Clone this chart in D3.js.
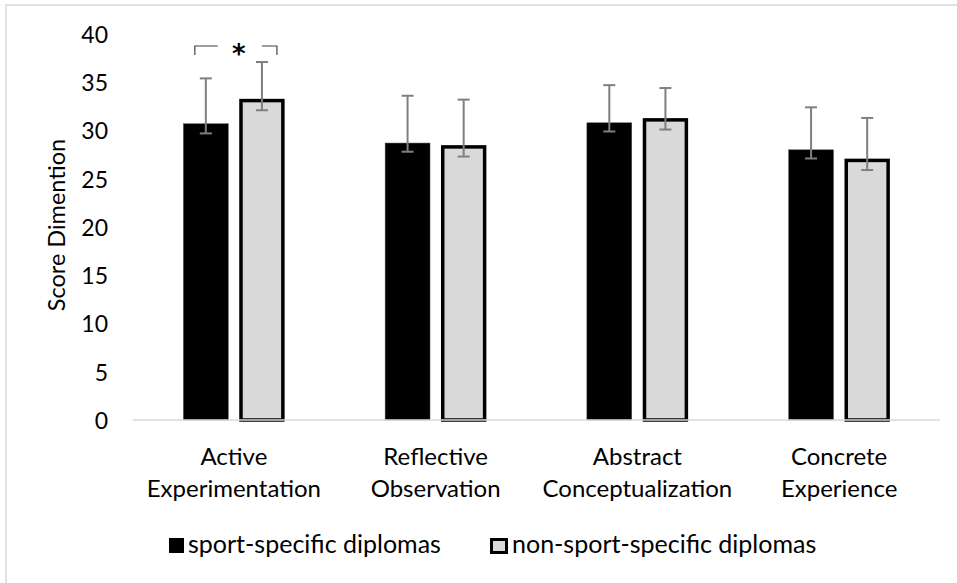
<!DOCTYPE html>
<html lang="en">
<head>
    <meta charset="utf-8">
    <title>Score Dimention</title>
    <style type="text/css">
        body { margin: 0; background: #fff; }
        .chart text { font-family: Lato, "Open Sans", sans-serif; fill: #000; }
        .chart .tick text { font-size: 23px; }
    </style>
</head>
<body>
    <svg class="chart" width="957" height="583"></svg>

    <script src="https://cdnjs.cloudflare.com/ajax/libs/d3/7.8.5/d3.min.js"></script>
    <script>
        // data
        var categories = [['Active', 'Experimentation'], ['Reflective', 'Observation'],
                          ['Abstract', 'Conceptualization'], ['Concrete', 'Experience']];
        var series = ['sport-specific diplomas', 'non-sport-specific diplomas'];
        var sportValues = [30.7, 28.7, 30.8, 28.0];
        var sportErrUp = [4.7, 4.9, 3.9, 4.4];
        var sportErrDown = [1.0, 0.9, 0.9, 0.9];
        var nonSportValues = [33.1, 28.3, 31.1, 26.9];
        var nonSportErrUp = [4.0, 4.9, 3.3, 4.4];
        var nonSportErrDown = [1.0, 1.0, 1.0, 1.0];
        var yTicks = [0, 5, 10, 15, 20, 25, 30, 35, 40];

        var svg = d3.select('.chart'),
            margin = {top: 34, right: 17, bottom: 163, left: 133},
            width = +svg.attr('width') - margin.left - margin.right,
            height = +svg.attr('height') - margin.top - margin.bottom;

        // outer frame
        svg.append('rect')
            .attr('x', 6).attr('y', 5)
            .attr('width', 1000).attr('height', 1000)
            .attr('fill', 'none')
            .attr('stroke', '#d9d9d9')
            .attr('stroke-width', 1.5);

        var g = svg.append('g')
            .attr('transform', 'translate(' + margin.left + ',' + margin.top + ')');

        var catNames = categories.map(function(c) { return c.join(' '); });

        var x0 = d3.scaleBand().domain(catNames).range([0, width]);
        var x1 = d3.scaleBand().domain(series).range([-50.5, 50.5]).paddingInner(0.2);
        var y = d3.scaleLinear().domain([0, 40]).range([height, 0]);

        // y axis (labels only)
        var yAxis = g.append('g')
            .call(d3.axisLeft(y).tickValues(yTicks).tickSize(0).tickPadding(25));
        yAxis.select('.domain').remove();
        yAxis.selectAll('text').attr('dy', '0.36em');

        // rows for drawing
        var rows = [];
        catNames.forEach(function(c, i) {
            rows.push({cat: c, s: series[0], v: sportValues[i], up: sportErrUp[i], down: sportErrDown[i]});
            rows.push({cat: c, s: series[1], v: nonSportValues[i], up: nonSportErrUp[i], down: nonSportErrDown[i]});
        });

        function cx(d) { return x0(d.cat) + x0.bandwidth() / 2 + x1(d.s); }

        // bars
        g.selectAll('.bar')
            .data(rows)
            .enter()
            .append('rect')
            .attr('class', 'bar')
            .attr('x', function(d) { return d.s === series[0] ? cx(d) : cx(d) + 1.5; })
            .attr('y', function(d) { return y(d.v); })
            .attr('width', function(d) { return d.s === series[0] ? x1.bandwidth() : x1.bandwidth() - 3; })
            .attr('height', function(d) { return y(0) - y(d.v); })
            .attr('fill', function(d) { return d.s === series[0] ? '#000' : '#d9d9d9'; })
            .attr('stroke', function(d) { return d.s === series[0] ? '#555' : '#000'; })
            .attr('stroke-width', function(d) { return d.s === series[0] ? 0.5 : 3.5; });

        // x axis line
        g.append('line')
            .attr('x1', 0).attr('x2', width)
            .attr('y1', y(0)).attr('y2', y(0))
            .attr('stroke', '#d9d9d9').attr('stroke-width', 1.5);

        // error bars
        var err = g.selectAll('.err')
            .data(rows)
            .enter()
            .append('g')
            .attr('class', 'err')
            .attr('stroke', '#7f7f7f')
            .attr('stroke-width', 2);
        err.append('line')
            .attr('x1', function(d) { return cx(d) + x1.bandwidth() / 2; })
            .attr('x2', function(d) { return cx(d) + x1.bandwidth() / 2; })
            .attr('y1', function(d) { return y(d.v + d.up); })
            .attr('y2', function(d) { return y(d.v - d.down); });
        [function(d) { return d.v + d.up; }, function(d) { return d.v - d.down; }].forEach(function(f) {
            err.append('line')
                .attr('x1', function(d) { return cx(d) + x1.bandwidth() / 2 - 6; })
                .attr('x2', function(d) { return cx(d) + x1.bandwidth() / 2 + 6; })
                .attr('y1', function(d) { return y(f(d)); })
                .attr('y2', function(d) { return y(f(d)); });
        });

        // category labels
        categories.forEach(function(c, i) {
            var t = g.append('text')
                .attr('x', x0(catNames[i]) + x0.bandwidth() / 2)
                .attr('y', y(0) + 45)
                .attr('text-anchor', 'middle')
                .style('font-size', '24px');
            c.forEach(function(line, j) {
                t.append('tspan')
                    .attr('x', x0(catNames[i]) + x0.bandwidth() / 2)
                    .attr('dy', j === 0 ? 0 : 32)
                    .text(line);
            });
        });

        // y title
        g.append('text')
            .attr('transform', 'translate(' + (-68) + ',' + (height / 2 - 2) + ') rotate(-90)')
            .attr('text-anchor', 'middle')
            .style('font-size', '23.5px')
            .text('Score Dimention');

        // significance bracket
        var a = rows[0], b = rows[1];
        var bx1 = cx(a) + x1.bandwidth() / 2 - 11, bx2 = cx(b) + x1.bandwidth() / 2 + 15;
        var by = 12, mid = (bx1 + bx2) / 2;
        var br = g.append('g').attr('fill', 'none').attr('stroke', '#404040').attr('stroke-width', 1.2);
        br.append('path').attr('d', 'M' + bx1 + ',' + (by + 9) + 'V' + by + 'H' + (mid - 18));
        br.append('path').attr('d', 'M' + (mid + 26) + ',' + by + 'H' + bx2 + 'V' + (by + 9));
        g.append('text')
            .attr('x', mid + 3)
            .attr('y', by + 17)
            .attr('text-anchor', 'middle')
            .style('font-family', '"DejaVu Sans", sans-serif')
            .style('font-size', '26px')
            .style('font-weight', 'bold')
            .text('*');

        // legend
        var legend = svg.append('g').attr('transform', 'translate(169,538)');
        var lx = [0, 321];
        series.forEach(function(s, i) {
            var item = legend.append('g').attr('transform', 'translate(' + lx[i] + ',0)');
            item.append('rect')
                .attr('x', i === 0 ? 0 : 1.5).attr('y', i === 0 ? 0 : 1.5)
                .attr('width', i === 0 ? 15 : 15).attr('height', i === 0 ? 15 : 13)
                .attr('fill', i === 0 ? '#000' : '#d9d9d9')
                .attr('stroke', '#000')
                .attr('stroke-width', i === 0 ? 0 : 3);
            item.append('text')
                .attr('x', i === 0 ? 19 : 22)
                .attr('y', 15)
                .style('font-size', '25px')
                .text(s);
        });
    </script>
</body>
</html>
